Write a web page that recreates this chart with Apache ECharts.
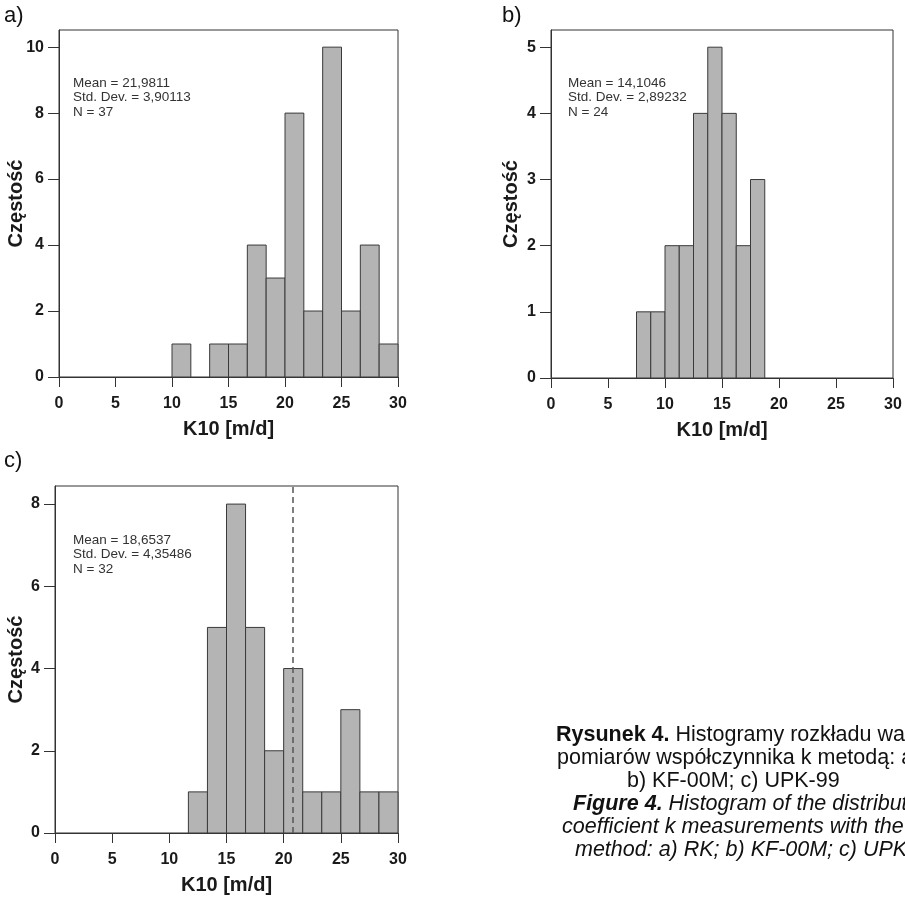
<!DOCTYPE html>
<html><head><meta charset="utf-8">
<script src="https://cdn.jsdelivr.net/npm/echarts@6/dist/echarts.min.js"></script>
<style>html,body{margin:0;padding:0;background:#fff}#c{width:905px;height:897px}</style>
</head><body><div id="c"></div>
<script>
// ---------- data ----------
const xTickValues = [0, 5, 10, 15, 20, 25, 30];

// a) RK
const binStartA = 10, binWidthA = 5 / 3;
const countsA = [1, 0, 1, 1, 4, 3, 8, 2, 10, 2, 4, 1];
const yTicksA = [0, 2, 4, 6, 8, 10];
const statsA = ['Mean = 21,9811', 'Std. Dev. = 3,90113', 'N = 37'];

// b) KF-00M
const binStartB = 7.5, binWidthB = 1.25;
const countsB = [1, 1, 2, 2, 4, 5, 4, 2, 3];
const yTicksB = [0, 1, 2, 3, 4, 5];
const statsB = ['Mean = 14,1046', 'Std. Dev. = 2,89232', 'N = 24'];

// c) UPK-99
const binStartC = 35 / 3, binWidthC = 5 / 3;
const countsC = [1, 5, 8, 5, 2, 4, 1, 1, 3, 1, 1];
const yTicksC = [0, 2, 4, 6, 8];
const statsC = ['Mean = 18,6537', 'Std. Dev. = 4,35486', 'N = 32'];
const refLineC = 20.8;

const xName = 'K10 [m/d]';
const yName = 'Częstość';
const panelLabels = ['a)', 'b)', 'c)'];
const captionLines = [
  '{b|Rysunek 4.} Histogramy rozkładu wartości',
  'pomiarów współczynnika k metodą: a) RK;',
  'b) KF-00M; c) UPK-99',
  '{b|Figure 4.} Histogram of the distribution of',
  'coefficient k measurements with the use of',
  'method: a) RK; b) KF-00M; c) UPK-99'
];

// ---------- helpers ----------
const FF = '"Liberation Sans", Arial, Helvetica, sans-serif';
function bins(start, width, counts) {
  return counts.map((c, i) => [start + i * width, start + (i + 1) * width, c]);
}
function renderBar(params, api) {
  const y = api.value(2);
  if (!(y > 0)) return null;
  const p0 = api.coord([api.value(0), y]);
  const p1 = api.coord([api.value(1), 0]);
  return {
    type: 'rect',
    shape: { x: p0[0], y: p0[1], width: p1[0] - p0[0], height: p1[1] - p0[1] },
    style: { fill: '#b4b4b4', stroke: '#3a3a3a', lineWidth: 1 }
  };
}
function xAxisOf(idx) {
  return {
    gridIndex: idx, type: 'value', min: 0, max: 30, interval: 5,
    axisLine: { show: true, onZero: false, lineStyle: { color: '#333', width: 1 } },
    axisTick: { show: true, inside: false, length: 10, lineStyle: { color: '#333' } },
    axisLabel: { fontFamily: FF, fontWeight: 'bold', fontSize: 16, color: '#1a1a1a', margin: 19 },
    splitLine: { show: false },
    name: xName, nameLocation: 'middle', nameGap: 42, nameMoveOverlap: false,
    nameTextStyle: { fontFamily: FF, fontWeight: 'bold', fontSize: 20, color: '#1a1a1a' }
  };
}
function yAxisOf(idx, max, ticks, gap) {
  return {
    gridIndex: idx, type: 'value', min: 0, max: max,
    axisLine: { show: true, onZero: false, lineStyle: { color: '#333', width: 1 } },
    axisTick: { show: true, inside: false, length: 11, customValues: ticks, lineStyle: { color: '#333' } },
    axisLabel: { customValues: ticks, fontFamily: FF, fontWeight: 'bold', fontSize: 16, color: '#1a1a1a', margin: 15 },
    splitLine: { show: false },
    name: yName, nameLocation: 'middle', nameGap: gap, nameMoveOverlap: false,
    nameTextStyle: { fontFamily: FF, fontWeight: 'bold', fontSize: 20, color: '#1a1a1a' }
  };
}
function statsText(lines, x, y) {
  return {
    type: 'text', x: x, y: y, silent: true,
    style: { text: lines.join('\n'), fontFamily: FF, fontSize: 13.5, lineHeight: 14.5, fill: '#333', verticalAlign: 'top' }
  };
}
function plainText(t, x, y, size) {
  return { type: 'text', x: x, y: y, silent: true,
    style: { text: t, fontFamily: FF, fontSize: size, fill: '#111', verticalAlign: 'middle' } };
}

const gridStyle = { show: true, borderColor: '#333', borderWidth: 1, backgroundColor: 'transparent', containLabel: false, outerBoundsMode: 'none' };

const CAP_FS = 21.5;
const captionX = [556, 557, 627, 573, 562, 575];
const captionGraphics = captionLines.map((t, i) => ({
  type: 'text', x: captionX[i], y: 735 + i * 23, silent: true,
  style: {
    text: t, fontFamily: FF, fontSize: CAP_FS, fill: '#111', verticalAlign: 'middle',
    fontStyle: i >= 3 ? 'italic' : 'normal',
    rich: { b: { fontFamily: FF, fontSize: CAP_FS, fontWeight: 'bold', fontStyle: i >= 3 ? 'italic' : 'normal', fill: '#111' } }
  }
}));

const chart = echarts.init(document.getElementById('c'), null, { renderer: 'canvas' });
chart.setOption({
  animation: false,
  backgroundColor: '#fff',
  grid: [
    Object.assign({ left: 59, top: 30, width: 339, height: 347 }, gridStyle),
    Object.assign({ left: 551, top: 30, width: 342, height: 348 }, gridStyle),
    Object.assign({ left: 55, top: 486, width: 343, height: 347 }, gridStyle)
  ],
  xAxis: [xAxisOf(0), xAxisOf(1), xAxisOf(2)],
  yAxis: [
    yAxisOf(0, 10.52, yTicksA, 33),
    yAxisOf(1, 5.26, yTicksB, 30),
    yAxisOf(2, 8.44, yTicksC, 29)
  ],
  series: [
    { type: 'custom', xAxisIndex: 0, yAxisIndex: 0, renderItem: renderBar, encode: { x: [0, 1], y: 2 }, data: bins(binStartA, binWidthA, countsA), silent: true },
    { type: 'custom', xAxisIndex: 1, yAxisIndex: 1, renderItem: renderBar, encode: { x: [0, 1], y: 2 }, data: bins(binStartB, binWidthB, countsB), silent: true },
    { type: 'custom', xAxisIndex: 2, yAxisIndex: 2, renderItem: renderBar, encode: { x: [0, 1], y: 2 }, data: bins(binStartC, binWidthC, countsC), silent: true,
      markLine: { symbol: 'none', silent: true, animation: false, label: { show: false },
        lineStyle: { type: [6, 4], color: '#555', width: 1.5 }, data: [{ xAxis: refLineC }] } }
  ],
  graphic: [
    statsText(statsA, 73, 76),
    statsText(statsB, 568, 76),
    statsText(statsC, 73, 533),
    plainText(panelLabels[0], 4, 16, 22),
    plainText(panelLabels[1], 502, 16, 22),
    plainText(panelLabels[2], 4, 461, 22)
  ].concat(captionGraphics)
});
</script>
</body></html>
